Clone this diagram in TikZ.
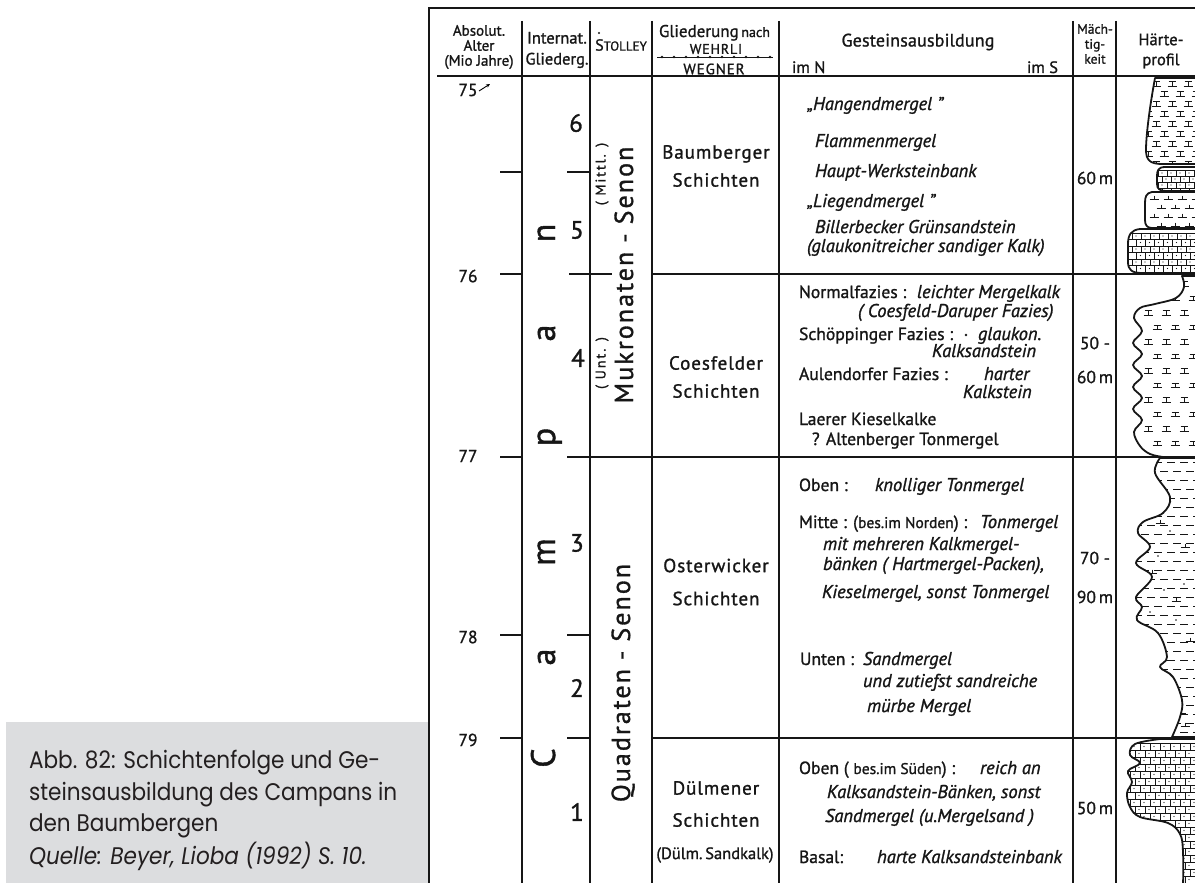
\documentclass[tikz,border=0pt]{standalone}
\usepackage{fontspec}
\setmainfont{PT Sans}[UprightFeatures={FakeBold=1.2}, ItalicFeatures={FakeBold=1.2}]
\newfontfamily\capfont{Poppins}[FakeStretch=0.9]
\usetikzlibrary{arrows.meta}
\definecolor{ink}{RGB}{22,22,22}
\definecolor{capgrey}{RGB}{220,221,223}
\definecolor{captext}{RGB}{35,31,32}
\newcommand\fsz[1]{\fontsize{#1}{#1}\selectfont}
\newcommand\lsp[1]{\addfontfeatures{LetterSpace=#1}}

\tikzset{
  every node/.style={inner sep=0pt, outer sep=0pt, text=ink},
  frameline/.style={line width=2.6pt, draw=ink},
  rule/.style={line width=1.4pt, draw=ink},
  tick/.style={line width=1.2pt, draw=ink},
  sym/.style={line width=0.8pt, draw=ink},
  outline/.style={line width=1.8pt, draw=ink, line join=round},
  lbl/.style={anchor=base west, font=\fsz{17.6}},
  itl/.style={anchor=base west, font=\fsz{18.5}\itshape},
  unit/.style={font=\fsz{17.5}},
  agelbl/.style={font=\fsz{17.5}},
  chrono/.style={anchor=base, rotate=90, font=\fsz{34}},
  subst/.style={font=\fsz{25}},
  layer/.style={font=\fsz{19}\lsp{5}, align=center},
  captxt/.style={anchor=base west, font=\capfont\fsz{24}, text=captext},
  marl/.pic={\draw[sym] (-3.5,-2.2)--(3.5,-2.2) (0,-2.2)--(0,2.2) (-4.5,2.2)--(4.5,2.2);},
  tee/.pic={\draw[sym] (0,-2.5)--(0,1.5) (-4.5,1.5)--(4.5,1.5);}
}

% outlines of the hardness profile
\def\bedA{(1205,78) -- (1155,78) .. controls (1150,105) and (1146,135) .. (1146,150) .. controls (1146,160) and (1150,164) .. (1162,164) -- (1205,164) -- cycle}
\def\bedB{(1205,167) -- (1165,167) .. controls (1158,167) and (1157,171) .. (1157,176) -- (1157,184) .. controls (1157,189) and (1160,191) .. (1166,191) -- (1205,191) -- cycle}
\def\bedC{(1205,192) -- (1152,192) .. controls (1146,193) and (1145,197) .. (1145,203) -- (1145,220) .. controls (1145,225) and (1147,228) .. (1152,228) -- (1205,228) -- cycle}
\def\bedD{(1205,229) -- (1140,229) .. controls (1131,230) and (1128,235) .. (1128,244) -- (1128,262) .. controls (1128,270) and (1132,273) .. (1142,273) -- (1205,273) -- cycle}
\def\bedE{(1205,276) -- plot[smooth, tension=0.6] coordinates {(1182,276) (1184,287) (1176,298) (1155,304) (1140,308) (1134,318) (1142,331) (1133,343) (1142,354) (1133,365) (1142,376) (1133,387) (1142,398) (1133,409) (1142,420) (1134,432) (1140,446) (1150,454) (1163,457)} -- (1205,457) -- cycle}
\def\bedF{(1205,458) -- plot[smooth, tension=0.6] coordinates {(1160,458) (1155,473) (1170,497) (1163,513) (1143,522) (1138,533) (1150,547) (1136,563) (1152,577) (1136,597) (1142,607) (1137,620) (1158,633) (1167,657) (1160,667) (1173,677) (1182,700) (1180,717) (1172,737)} -- (1205,737) -- cycle}
\def\bedG{(1205,739) -- plot[smooth, tension=0.6] coordinates {(1160,739) (1135,744) (1130,755) (1140,763) (1128,771) (1132,782) (1127,793) (1130,807) (1140,817) (1168,823) (1180,834) (1183,852) (1183,890)} -- (1205,890) -- cycle}

\begin{document}
\begin{tikzpicture}[x=1pt, y=-1pt]
\useasboundingbox (0,0) rectangle (1195,883);
\begin{scope}
\clip (0,0) rectangle (1195,883);

% caption panel
\fill[capgrey] (6,722) rectangle (429,890);
\node[captxt] (cap1) at (29,768) {Abb. 82: Schichtenfolge und Ge-};
\node[captxt] (cap2) at (29,800) {steinsausbildung des Campans in};
\node[captxt] (cap3) at (29,831) {den Baumbergen};
\node[captxt, font=\capfont\fsz{24}\itshape] (cap4) at (29,864) {Quelle: Beyer, Lioba (1992) S. 10.};

% table frame
\draw[frameline] (429,890) -- (429,8) -- (1200,8);
\draw[line width=2.2pt, draw=ink] (437,76) -- (1200,76);
\foreach \xx in {522,590,652,779,1073,1116}
  \draw[rule] (\xx,21) -- (\xx,890);

% horizontal boundaries
\draw[rule] (652,274) -- (1200,274);
\draw[rule] (567,457) -- (1200,457);
\draw[rule] (652,738) -- (1200,738);
\foreach \yy in {172,274,457,635,738}
  \draw[tick] (500,\yy) -- (522,\yy);
\draw[tick] (567,172) -- (590,172);
\draw[tick] (569,274) -- (612,274);
\draw[tick] (567,635) -- (590,635);
\draw[tick] (567,738) -- (590,738);

% header
\node[font=\fontsize{15}{15}\selectfont, align=center] (hAge) at (479,47) {Absolut.\\Alter\\(Mio Jahre)};
\node[font=\fontsize{16.5}{21}\selectfont, align=center] (hInt) at (557,50) {Internat.\\Gliederg.};
\node (hSt) at (621,45) {{\fsz{16}S}{\fsz{13}TOLLEY}};
\fill[ink] (599,33) circle (1.2);
\node[anchor=base west] (hGl) at (659,37) {{\fsz{17}Gliederung} {\fsz{14}nach}};
\node[font=\fsz{14}\lsp{6}] (hWe) at (716,49) {WEHRLI};
\draw[line width=0.8pt, draw=ink] (657,57) -- (773,57);
\foreach \k in {0,...,9} \fill[ink] (662+\k*12,57) circle (1.3);
\node[font=\fsz{15}\lsp{6}] (hWg) at (714,69) {WEGNER};
\node[font=\fsz{18}\lsp{1}] (hGe) at (918,42) {Gesteinsausbildung};
\node[anchor=base west, font=\fsz{16.5}] (hN) at (792,73) {im N};
\node[anchor=base west, font=\fsz{16.5}] (hS) at (1027,73) {im S};
\node[font=\fontsize{13.5}{15}\selectfont, align=center] (hMa) at (1095,44) {Mäch-\\tig-\\keit};
\node[font=\fontsize{16.5}{20}\selectfont, align=center] (hHa) at (1161,51) {Härte-\\profil};

% absolute ages
\node[agelbl] (a75) at (468,90) {75};
\draw[line width=0.9pt, -{Stealth[length=4pt,width=3.5pt]}] (479,91) -- (490,84);
\node[agelbl] (a76) at (468,276) {76};
\node[agelbl] (a77) at (468,456) {77};
\node[agelbl] (a78) at (468,637) {78};
\node[agelbl] (a79) at (468,740) {79};

% stage name, written upwards
\node[chrono] (cC) at (555,758) {C};
\node[chrono] (ca1) at (555,657) {a};
\node[chrono] (cm) at (555,552) {m};
\node[chrono] (cp) at (555,437) {p};
\node[chrono] (ca2) at (555,333) {a};
\node[chrono] (cn) at (555,233) {n};

% substage numbers
\node[subst] (s6) at (576,123) {6};
\node[subst] (s5) at (577,230) {5};
\node[subst] (s4) at (578,358) {4};
\node[subst] (s3) at (577,543) {3};
\node[subst] (s2) at (577,688) {2};
\node[subst] (s1) at (577,812) {1};

% zones after Stolley
\node[rotate=90, font=\fsz{14}\lsp{14}] (stM) at (602,174) {( Mittl. )};
\node[rotate=90, anchor=base, font=\fsz{26}\lsp{8}] (stMu) at (633,275) {Mukronaten - Senon};
\node[rotate=90, font=\fsz{14}\lsp{14}] (stU) at (602,363) {( Unt. )};
\node[rotate=90, anchor=base, font=\fsz{26}\lsp{8}] (stQu) at (630,683) {Quadraten - Senon};

% formations
\node[layer, font=\fontsize{19}{28}\selectfont\lsp{5}] (fBa) at (716,166) {Baumberger\\Schichten};
\node[layer, font=\fontsize{19}{28}\selectfont\lsp{5}] (fCo) at (716,377) {Coesfelder\\Schichten};
\node[layer, font=\fontsize{19}{33}\selectfont\lsp{5}] (fOs) at (716,582) {Osterwicker\\Schichten};
\node[layer] (fDu1) at (716,788) {Dülmener};
\node[layer] (fDu2) at (716,820) {Schichten};
\node[font=\fsz{16.5}] (fDu3) at (715,855) {(Dülm.\,Sandkalk)};

% lithology, Baumberger Schichten
\node[itl] (g1) at (807,110) {„Hangendmergel ”};
\node[itl] (g2) at (815,147) {Flammenmergel};
\node[itl] (g3) at (815,177) {Haupt-Werksteinbank};
\node[itl] (g4) at (807,207) {„Liegendmergel ”};
\node[itl] (g5) at (815,233) {Billerbecker Grünsandstein};
\node[itl] (g6) at (807,252) {(glaukonitreicher sandiger Kalk)};

% lithology, Coesfelder Schichten
\node[lbl] (c1) at (799,298) {Normalfazies :};
\node[itl] (c1b) at (917,298) {leichter Mergelkalk};
\node[itl] (c2) at (858,317) {( Coesfeld-Daruper Fazies)};
\node[lbl] (c3) at (799,340) {Schöppinger Fazies :};
\fill[ink] (966,335) circle (1.4);
\node[itl] (c3b) at (978,340) {glaukon.};
\node[itl] (c4) at (932,357) {Kalksandstein};
\node[lbl] (c5) at (799,380) {Aulendorfer Fazies :};
\node[itl] (c5b) at (984,380) {harter};
\node[itl] (c6) at (963,398) {Kalkstein};
\node[lbl] (c7) at (799,425) {Laerer Kieselkalke};
\node[lbl] (c8) at (812,445) {? Altenberger Tonmergel};

% lithology, Osterwicker Schichten
\node[lbl] (o1) at (799,491) {Oben :};
\node[itl] (o1b) at (875,491) {knolliger Tonmergel};
\node[lbl] (o2) at (799,528) {Mitte : ({\fsz{15.5}bes.im Norden}) :};
\node[itl] (o2b) at (980,528) {Tonmergel};
\node[itl] (o3) at (823,550) {mit mehreren Kalkmergel-};
\node[itl] (o4) at (823,570) {bänken ( Hartmergel-Packen),};
\node[itl] (o5) at (822,598) {Kieselmergel, sonst Tonmergel};
\node[lbl] (o6) at (800,665) {Unten :};
\node[itl] (o6b) at (863,665) {Sandmergel};
\node[itl] (o7) at (863,687) {und zutiefst sandreiche};
\node[itl] (o8) at (867,712) {mürbe Mergel};

% lithology, Dülmener Schichten
\node[lbl] (d1) at (799,774) {Oben ( {\fsz{15.5}bes.im Süden}) :};
\node[itl] (d1b) at (980,774) {reich an};
\node[itl] (d2) at (827,798) {Kalksandstein-Bänken, sonst};
\node[itl] (d3) at (825,822) {Sandmergel (u.Mergelsand )};
\node[lbl] (d4) at (799,863) {Basal:};
\node[itl] (d4b) at (877,863) {harte Kalksandsteinbank};

% thickness
\node[unit] (m1) at (1095,178) {60\,m};
\node[unit] (m2) at (1095,343) {50 -};
\node[unit] (m3) at (1095,377) {60\,m};
\node[unit] (m4) at (1095,558) {70 -};
\node[unit] (m5) at (1095,597) {90\,m};
\node[unit] (m6) at (1095,808) {50\,m};

% hardness profile: marl beds
\begin{scope}
  \clip \bedA;
  \foreach \r in {0,...,8}
    \foreach \c in {0,...,4}
      \pic at ({1140+16*\c+8*mod(\r,2)},{84+10*\r}) {marl};
\end{scope}
\draw[outline] \bedA;

\begin{scope}
  \clip \bedB;
  \foreach \r in {0,...,3}{
    \draw[sym] (1150,{170+6*\r}) -- (1200,{170+6*\r});
    \foreach \c in {0,...,5}{
      \draw[sym] ({1158+9*\c+4*mod(\r,2)},{170+6*\r}) -- ++(0,6);
      \fill[ink] ({1162+9*\c+4*mod(\r,2)},{173+6*\r}) circle (0.7);
    }
  }
\end{scope}
\draw[outline] \bedB;

\begin{scope}
  \clip \bedC;
  \foreach \r in {0,...,3}
    \foreach \c in {0,...,4}
      \pic at ({1154+14*\c+7*mod(\r,2)},{198+9*\r}) {tee};
\end{scope}
\draw[outline] \bedC;

\begin{scope}
  \clip \bedD;
  \foreach \r in {0,...,6}{
    \draw[sym] (1125,{233+6.5*\r}) -- (1200,{233+6.5*\r});
    \foreach \c in {0,...,7}{
      \draw[sym] ({1132+9*\c+4.5*mod(\r,2)},{233+6.5*\r}) -- ++(0,6.5);
      \fill[ink] ({1136+9*\c+4.5*mod(\r,2)},{236+6.5*\r}) circle (0.7);
    }
  }
\end{scope}
\draw[outline] \bedD;

\begin{scope}
  \clip \bedE;
  \foreach \r in {0,...,11}
    \foreach \c in {0,...,3}
      \pic at ({1148+18*\c+9*mod(\r,2)},{284+14.5*\r}) {marl};
\end{scope}
\draw[outline] \bedE;

\begin{scope}
  \clip \bedF;
  \foreach \r in {0,...,30}
    \foreach \c in {0,...,5}
      \draw[sym] ({1128+13*\c+6*mod(\r,2)},{462+9*\r}) -- ++(8,0);
  \foreach \p in {(1160,522),(1185,546),(1152,572),(1176,600),(1190,640),(1181,712),(1185,725)}
    \pic at \p {tee};
  \foreach \p in {(1170,531),(1158,556),(1184,584),(1150,612),(1176,620),(1164,590)}
    \fill[ink] \p circle (0.8);
\end{scope}
\draw[outline] \bedF;

\begin{scope}
  \clip \bedG;
  \foreach \r in {0,...,19}{
    \draw[sym] (1125,{743+7*\r}) -- (1200,{743+7*\r});
    \foreach \c in {0,...,7}{
      \draw[sym] ({1130+10*\c+5*mod(\r,2)},{743+7*\r}) -- ++(0,7);
      \fill[ink] ({1134+10*\c+5*mod(\r,2)},{746.5+7*\r}) circle (0.7);
    }
  }
\end{scope}
\draw[outline] \bedG;

\end{scope}
\end{tikzpicture}
\end{document}
